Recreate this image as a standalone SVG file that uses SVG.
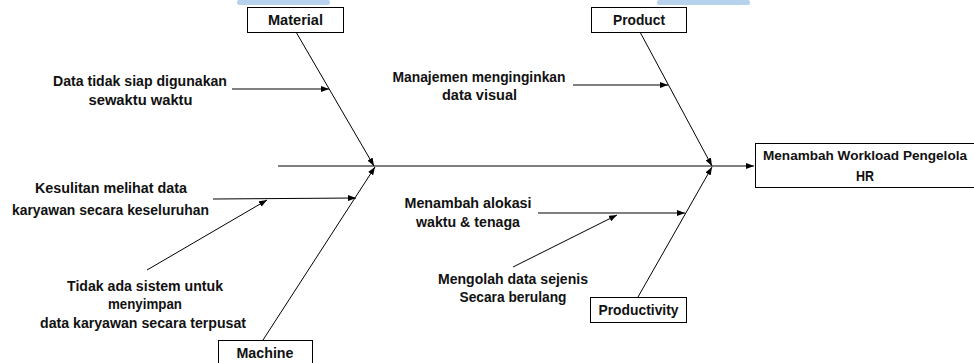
<svg xmlns="http://www.w3.org/2000/svg" width="974" height="363" viewBox="0 0 974 363">
<style>
.box{fill:#fff;stroke:#000;stroke-width:1}
.t{font-family:"Liberation Sans",Arial,sans-serif;font-weight:bold;font-size:14.5px;fill:#111;text-anchor:middle;dominant-baseline:central}
.ln{stroke:#000;stroke-width:1;fill:none}
.ar{stroke:#000;stroke-width:1;fill:none;marker-end:url(#ah)}
.wm{fill:#b7d2ec}
</style>
<defs>
<marker id="ah" markerWidth="8" markerHeight="6" refX="8" refY="3" orient="auto" markerUnits="userSpaceOnUse">
<path d="M0,0 L8,3 L0,6 Z" fill="#000"/>
</marker>
</defs>
<rect class="wm" x="237" y="0" width="93" height="5" rx="2"/>
<rect class="wm" x="657" y="0" width="93" height="5" rx="2"/>
<g id="connectors">
<line class="ar" x1="278" y1="166" x2="754" y2="166"/>
<line class="ar" x1="296" y1="32" x2="374" y2="166"/>
<line class="ar" x1="263" y1="340" x2="375" y2="167"/>
<line class="ar" x1="640" y1="32" x2="712" y2="166"/>
<line class="ar" x1="638" y1="297" x2="712" y2="167"/>
<line class="ar" x1="232" y1="89" x2="329" y2="89"/>
<line class="ar" x1="213" y1="199" x2="356" y2="198"/>
<line class="ar" x1="147" y1="270" x2="267" y2="200"/>
<line class="ar" x1="573" y1="85" x2="668" y2="85"/>
<line class="ar" x1="538" y1="213" x2="685" y2="213"/>
<line class="ar" x1="513" y1="267" x2="617" y2="215"/>
</g>
<g id="material"><rect class="box" x="247.5" y="7.5" width="96" height="25"/><text class="t" x="295.5" y="20" textLength="55" lengthAdjust="spacingAndGlyphs">Material</text></g>
<g id="product"><rect class="box" x="591.5" y="7.5" width="95" height="25"/><text class="t" x="639" y="20" textLength="52" lengthAdjust="spacingAndGlyphs">Product</text></g>
<g id="productivity"><rect class="box" x="590.5" y="297.5" width="96" height="25"/><text class="t" x="638.5" y="310" textLength="80" lengthAdjust="spacingAndGlyphs">Productivity</text></g>
<g id="machine"><rect class="box" x="218.5" y="340.5" width="94" height="26"/><text class="t" x="265" y="353" textLength="57" lengthAdjust="spacingAndGlyphs">Machine</text></g>
<g id="effect"><rect class="box" x="755.5" y="143.5" width="224" height="44"/><text class="t" x="865" y="155" style="font-size:13.4px" textLength="204" lengthAdjust="spacingAndGlyphs">Menambah Workload Pengelola</text><text class="t" x="865" y="176" textLength="18" lengthAdjust="spacingAndGlyphs">HR</text></g>
<g id="cause-data-tidak-siap"><text class="t" x="140" y="81" textLength="174" lengthAdjust="spacingAndGlyphs">Data tidak siap digunakan</text><text class="t" x="140.5" y="100" textLength="104" lengthAdjust="spacingAndGlyphs">sewaktu waktu</text></g>
<g id="cause-manajemen"><text class="t" x="479" y="77" textLength="173" lengthAdjust="spacingAndGlyphs">Manajemen menginginkan</text><text class="t" x="479.5" y="95" textLength="75" lengthAdjust="spacingAndGlyphs">data visual</text></g>
<g id="cause-kesulitan"><text class="t" x="111" y="188" textLength="152" lengthAdjust="spacingAndGlyphs">Kesulitan melihat data</text><text class="t" x="110.5" y="210" textLength="197" lengthAdjust="spacingAndGlyphs">karyawan secara keseluruhan</text></g>
<g id="cause-tidak-ada-sistem"><text class="t" x="145" y="286" textLength="156" lengthAdjust="spacingAndGlyphs">Tidak ada sistem untuk</text><text class="t" x="145" y="304" textLength="74" lengthAdjust="spacingAndGlyphs">menyimpan</text><text class="t" x="143" y="323" textLength="206" lengthAdjust="spacingAndGlyphs">data karyawan secara terpusat</text></g>
<g id="cause-menambah-alokasi"><text class="t" x="468" y="203" textLength="127" lengthAdjust="spacingAndGlyphs">Menambah alokasi</text><text class="t" x="468" y="222" textLength="104" lengthAdjust="spacingAndGlyphs">waktu &amp; tenaga</text></g>
<g id="cause-mengolah"><text class="t" x="513" y="279" textLength="150" lengthAdjust="spacingAndGlyphs">Mengolah data sejenis</text><text class="t" x="513" y="297" textLength="107" lengthAdjust="spacingAndGlyphs">Secara berulang</text></g>
</svg>
